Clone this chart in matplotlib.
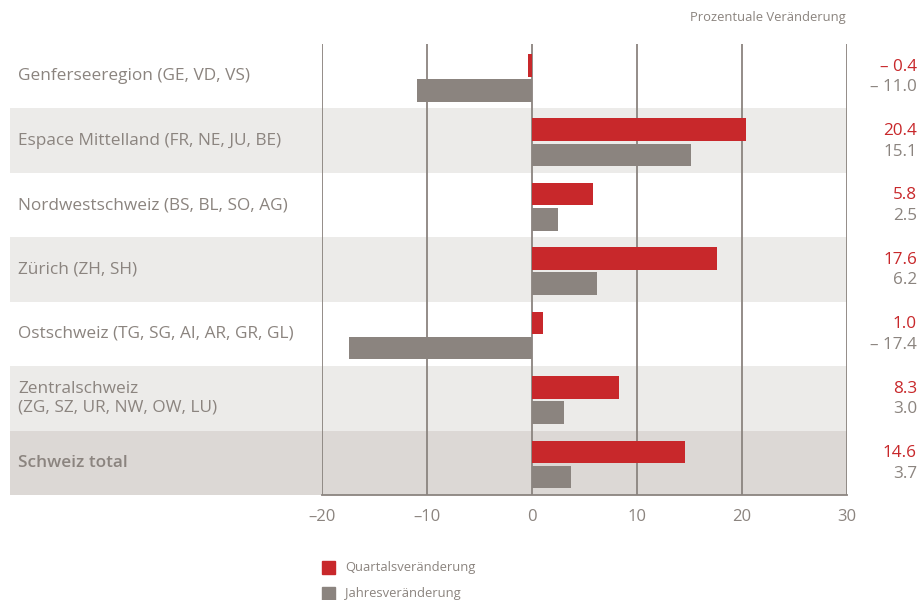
import matplotlib.pyplot as plt

plt.rcParams['font.family'] = ['Open Sans', 'DejaVu Sans']

# data
regions = ['Genferseeregion (GE, VD, VS)',
           'Espace Mittelland (FR, NE, JU, BE)',
           'Nordwestschweiz (BS, BL, SO, AG)',
           'Zürich (ZH, SH)',
           'Ostschweiz (TG, SG, AI, AR, GR, GL)',
           'Zentralschweiz\n(ZG, SZ, UR, NW, OW, LU)',
           'Schweiz total']
quartal = [-0.4, 20.4, 5.8, 17.6, 1.0, 8.3, 14.6]
jahr = [-11.0, 15.1, 2.5, 6.2, -17.4, 3.0, 3.7]
xticks = [-20, -10, 0, 10, 20, 30]
xticklabels = ['–20', '–10', '0', '10', '20', '30']

red = '#c8282b'
grey = '#8b847f'
txt = '#8b847f'
band_light = '#ecebe9'
band_total = '#dcd8d5'

def fmt(v):
    return ('– ' if v < 0 else '') + f'{abs(v):.1f}'

fig = plt.figure(figsize=(9.22, 6.0), dpi=100)
ax = fig.add_axes([322 / 922, 1 - 495 / 600, 525 / 922, 451 / 600])

ys = list(range(len(regions)))
x_left = (10 - 322) / 525  # bands start near left edge of figure

for i in ys:
    if i == len(regions) - 1:
        c = band_total
    elif i % 2 == 1:
        c = band_light
    else:
        c = None
    if c:
        ax.axhspan(i - 0.5, i + 0.5, xmin=x_left, xmax=1, color=c, lw=0,
                   clip_on=False, zorder=0)

ax.barh([y - 0.17 for y in ys], quartal, height=0.35, color=red, zorder=3)
ax.barh([y + 0.22 for y in ys], jahr, height=0.35, color=grey, zorder=3)

for x in xticks:
    ax.axvline(x, color=grey, lw=1.3, zorder=2)

ax.set_xlim(-20, 30)
ax.set_ylim(len(regions) - 0.5, -0.5)

for s in ['top', 'left', 'right']:
    ax.spines[s].set_visible(False)
ax.spines['bottom'].set_color(grey)
ax.spines['bottom'].set_linewidth(1.3)
ax.set_yticks([])
ax.set_xticks(xticks)
ax.set_xticklabels(xticklabels)
ax.tick_params(axis='x', length=0, pad=10, labelsize=12, labelcolor=txt)
ax.patch.set_alpha(0)

# category labels
lab_tr = ax.get_yaxis_transform()
for i, name in enumerate(regions):
    ax.text((18 - 322) / 525, i, name, transform=lab_tr, ha='left',
            va='center', fontsize=12.4, color=txt,
            fontweight='semibold' if i == len(regions) - 1 else 'normal',
            linespacing=1.15)

# value labels on the right
xv = (917 - 322) / 525
for i in ys:
    ax.text(xv, i - 0.15, fmt(quartal[i]), transform=lab_tr, ha='right',
            va='center', fontsize=12.3, color=red)
    ax.text(xv, i + 0.17, fmt(jahr[i]), transform=lab_tr, ha='right',
            va='center', fontsize=12.3, color=txt)

fig.text(846 / 922, 1 - 18 / 600, 'Prozentuale Veränderung', ha='right',
         va='center', fontsize=9.4, color=txt)

# legend
fig.patches.append(plt.Rectangle((322 / 922, 1 - 574 / 600), 13 / 922,
                                 13 / 600, transform=fig.transFigure,
                                 color=red))
fig.text(345 / 922, 1 - 567 / 600, 'Quartalsveränderung', va='center',
         fontsize=9.4, color=txt)
fig.patches.append(plt.Rectangle((322 / 922, 1 - 600 / 600), 13 / 922,
                                 13 / 600, transform=fig.transFigure,
                                 color=grey))
fig.text(345 / 922, 1 - 593 / 600, 'Jahresveränderung', va='center',
         fontsize=9.4, color=txt)

fig.savefig('out.png', dpi=100)
